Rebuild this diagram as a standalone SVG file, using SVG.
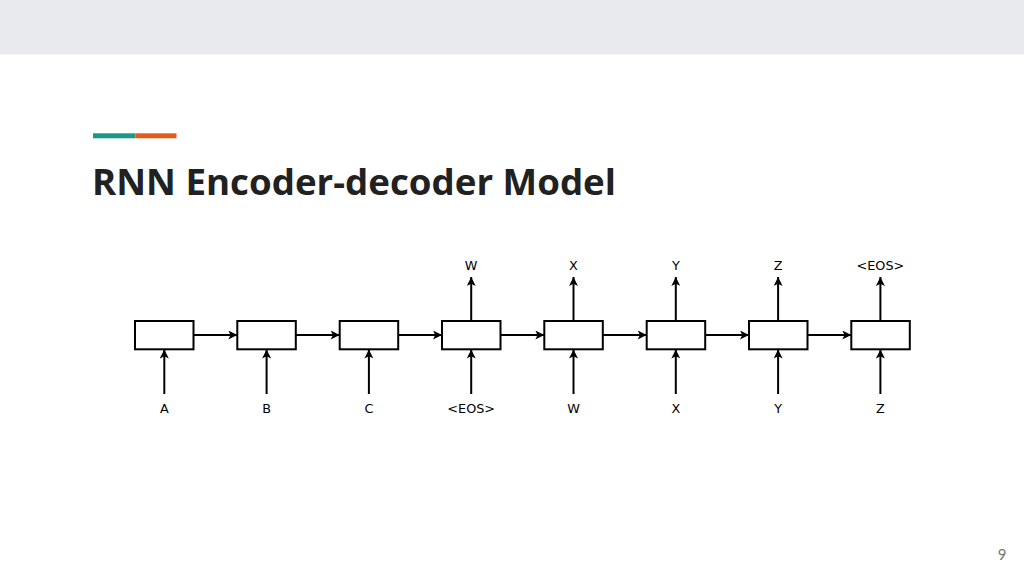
<svg xmlns="http://www.w3.org/2000/svg" width="1024" height="576" viewBox="0 0 1024 576">
<style>
.box{fill:#fff;stroke:#000;stroke-width:2}
.edge{stroke:#000;stroke-width:2;fill:none;marker-end:url(#ah)}
.lbl{font-family:"DejaVu Sans",sans-serif;font-size:12.8px;fill:#000;text-anchor:middle}
.title{font-family:"Open Sans",Lato,sans-serif;font-weight:bold;font-size:35px;fill:#212121}
</style>
<defs>
<marker id="ah" viewBox="0 0 10 10" refX="10" refY="5" markerWidth="11" markerHeight="9" markerUnits="userSpaceOnUse" orient="auto">
<path d="M0,0 L10,5 L0,10 L2.5,5 Z" fill="#000"/>
</marker>
</defs>
<rect x="0" y="0" width="1024" height="576" fill="#fff"/>
<rect x="0" y="0" width="1024" height="54.5" fill="#e8eaed"/>
<rect x="93" y="133.3" width="42.5" height="5" fill="#1e9886"/>
<rect x="135.5" y="133.3" width="41" height="5" fill="#e65a1a"/>
<text class="title" x="92" y="195" textLength="524" lengthAdjust="spacingAndGlyphs">RNN Encoder-decoder Model</text>
<text x="1002" y="560" font-family="Lato,'Open Sans',sans-serif" font-size="15" fill="#777" text-anchor="middle">9</text>

<g id="connectors">
<line class="edge" x1="193.5" y1="335" x2="237.3" y2="335"/>
<line class="edge" x1="295.8" y1="335" x2="339.7" y2="335"/>
<line class="edge" x1="398.2" y1="335" x2="442" y2="335"/>
<line class="edge" x1="500.5" y1="335" x2="544.3" y2="335"/>
<line class="edge" x1="602.8" y1="335" x2="646.7" y2="335"/>
<line class="edge" x1="705.2" y1="335" x2="749" y2="335"/>
<line class="edge" x1="807.5" y1="335" x2="851.3" y2="335"/>
<line class="edge" x1="164.3" y1="394" x2="164.3" y2="349.5"/>
<line class="edge" x1="266.6" y1="394" x2="266.6" y2="349.5"/>
<line class="edge" x1="368.9" y1="394" x2="368.9" y2="349.5"/>
<line class="edge" x1="471.2" y1="394" x2="471.2" y2="349.5"/>
<line class="edge" x1="573.5" y1="394" x2="573.5" y2="349.5"/>
<line class="edge" x1="675.8" y1="394" x2="675.8" y2="349.5"/>
<line class="edge" x1="778.1" y1="394" x2="778.1" y2="349.5"/>
<line class="edge" x1="880.4" y1="394" x2="880.4" y2="349.5"/>
<line class="edge" x1="471.2" y1="321" x2="471.2" y2="277"/>
<line class="edge" x1="573.5" y1="321" x2="573.5" y2="277"/>
<line class="edge" x1="675.8" y1="321" x2="675.8" y2="277"/>
<line class="edge" x1="778.1" y1="321" x2="778.1" y2="277"/>
<line class="edge" x1="880.4" y1="321" x2="880.4" y2="277"/>
</g>

<g id="n1"><rect class="box" x="135" y="321" width="58.5" height="28.3"/><text class="lbl" x="164.3" y="413">A</text></g>
<g id="n2"><rect class="box" x="237.3" y="321" width="58.5" height="28.3"/><text class="lbl" x="266.6" y="413">B</text></g>
<g id="n3"><rect class="box" x="339.7" y="321" width="58.5" height="28.3"/><text class="lbl" x="368.9" y="413">C</text></g>
<g id="n4"><rect class="box" x="442" y="321" width="58.5" height="28.3"/><text class="lbl" x="471.2" y="413">&lt;EOS&gt;</text><text class="lbl" x="471.2" y="270">W</text></g>
<g id="n5"><rect class="box" x="544.3" y="321" width="58.5" height="28.3"/><text class="lbl" x="573.5" y="413">W</text><text class="lbl" x="573.5" y="270">X</text></g>
<g id="n6"><rect class="box" x="646.7" y="321" width="58.5" height="28.3"/><text class="lbl" x="675.8" y="413">X</text><text class="lbl" x="675.8" y="270">Y</text></g>
<g id="n7"><rect class="box" x="749" y="321" width="58.5" height="28.3"/><text class="lbl" x="778.1" y="413">Y</text><text class="lbl" x="778.1" y="270">Z</text></g>
<g id="n8"><rect class="box" x="851.3" y="321" width="58.5" height="28.3"/><text class="lbl" x="880.4" y="413">Z</text><text class="lbl" x="880.4" y="270">&lt;EOS&gt;</text></g>
</svg>
